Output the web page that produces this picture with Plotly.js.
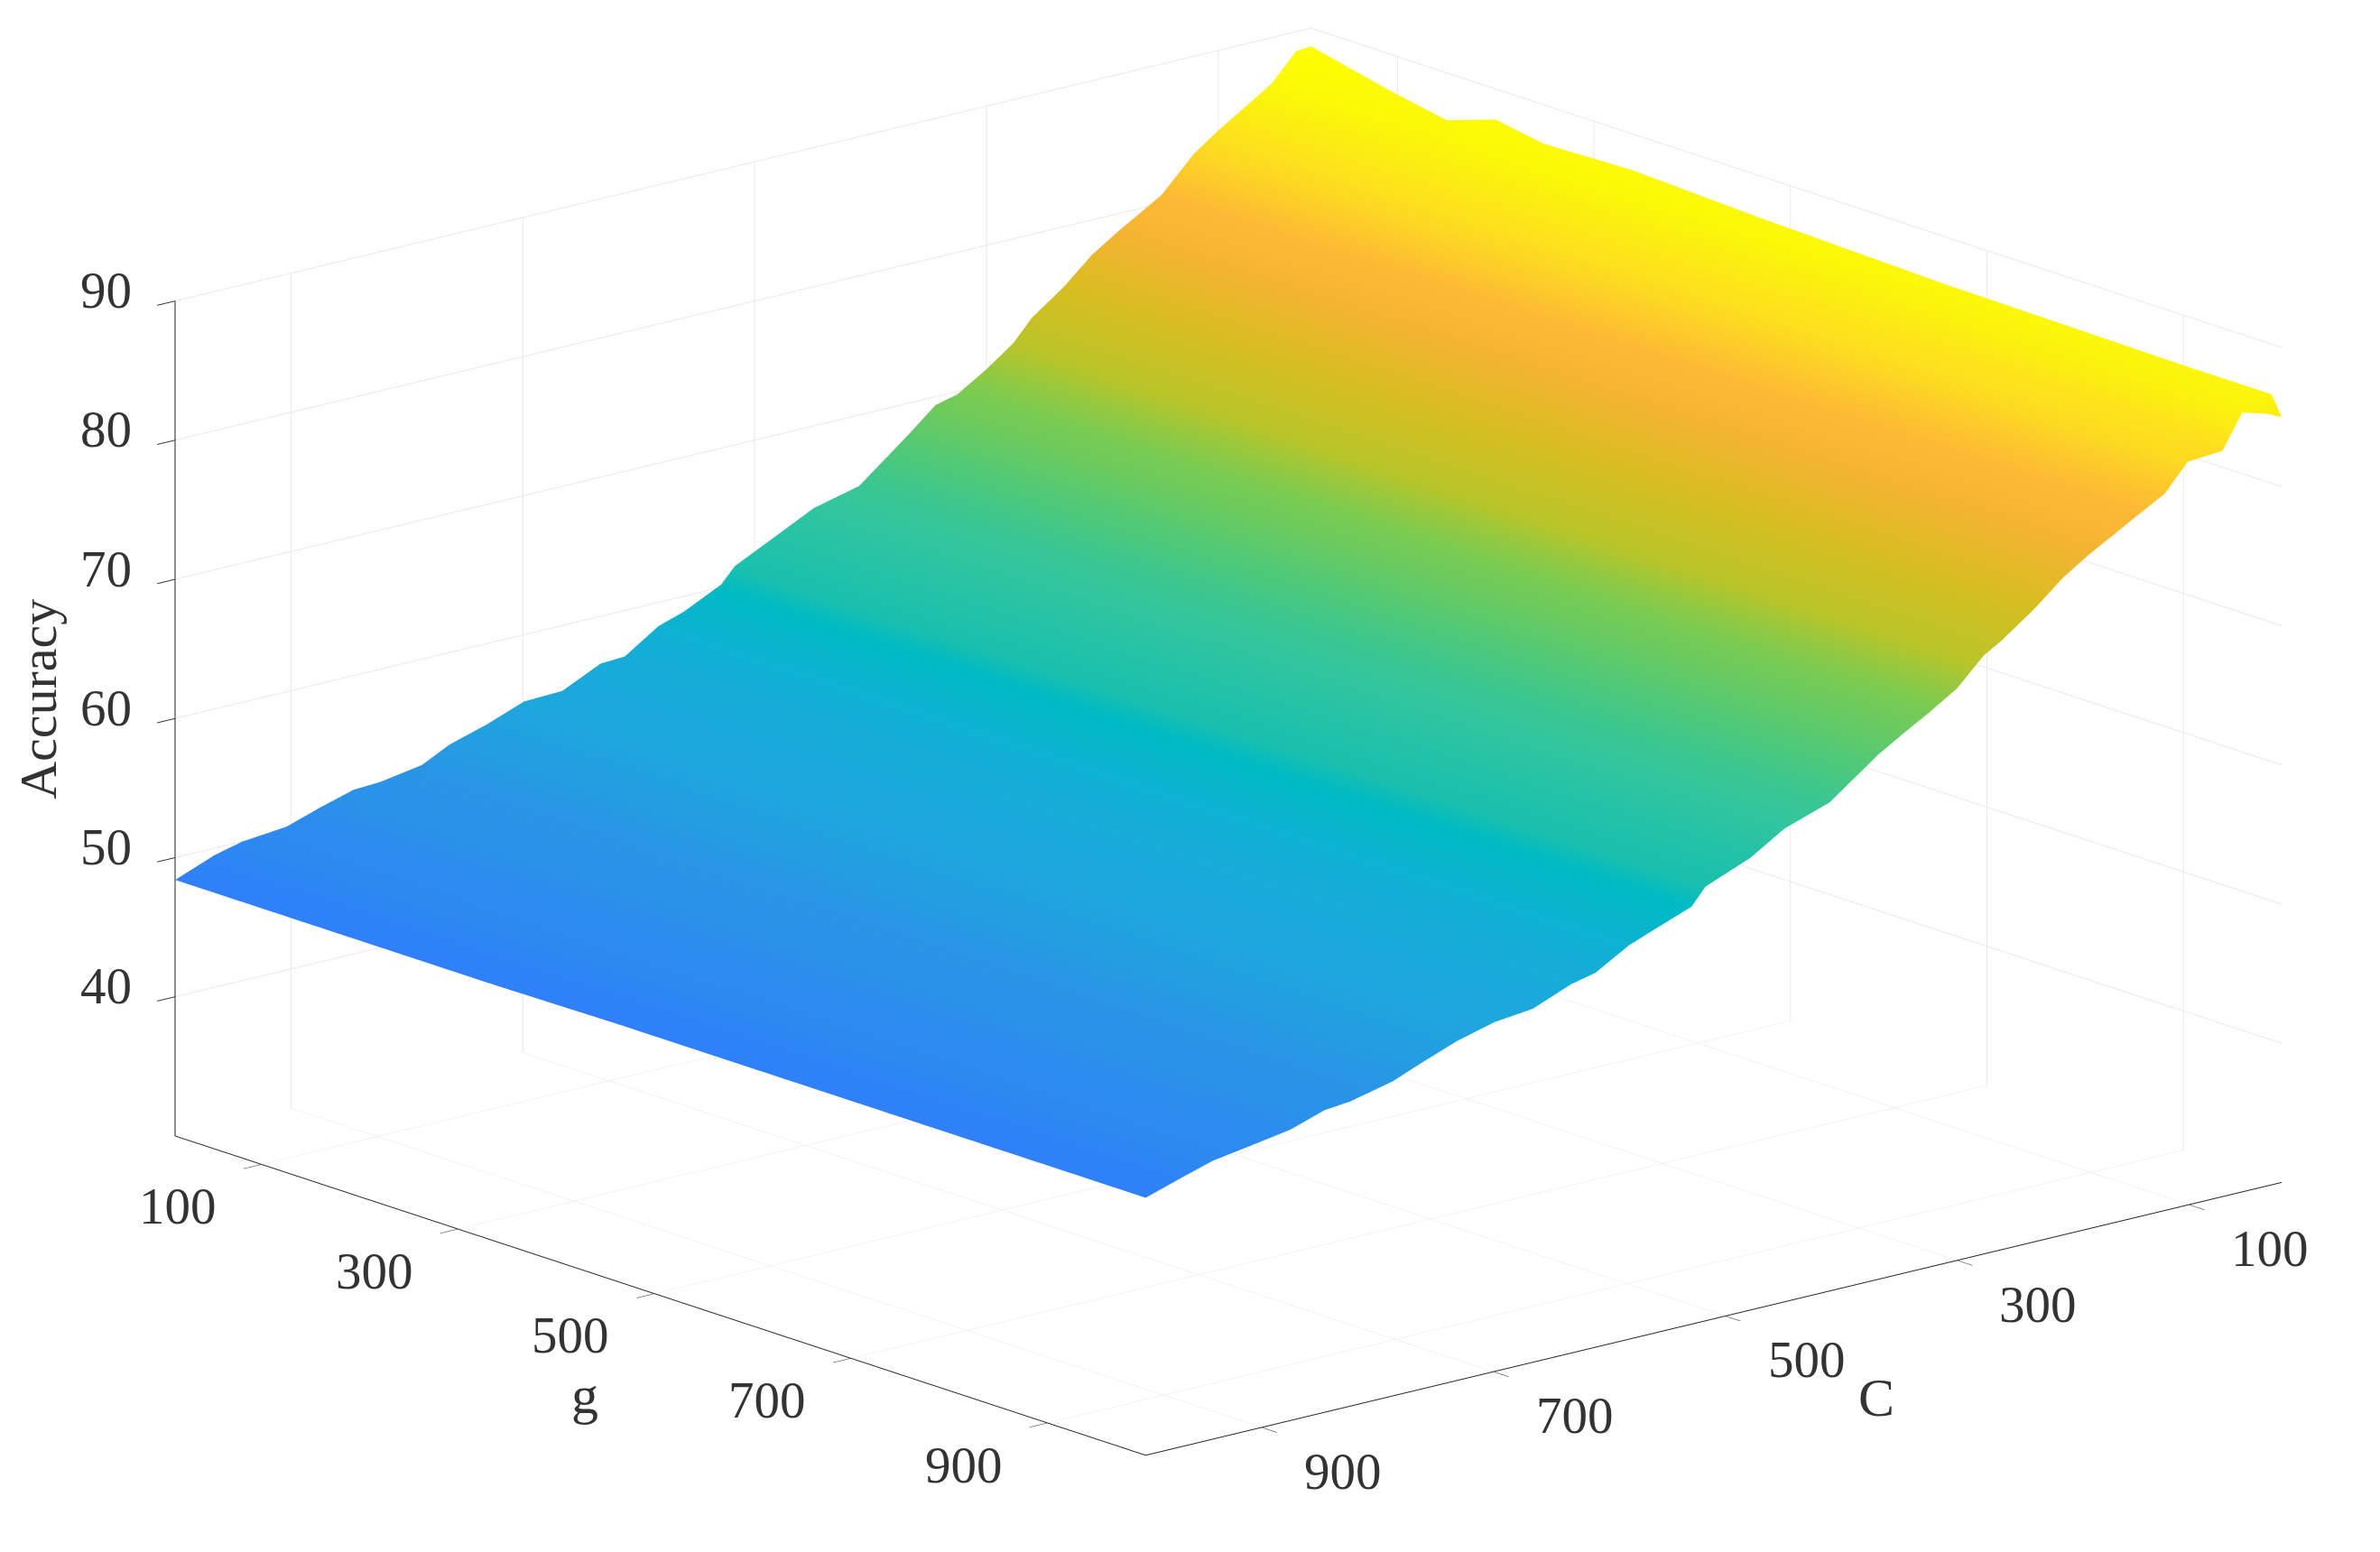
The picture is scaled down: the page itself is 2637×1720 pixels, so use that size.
<!DOCTYPE html>
<html>
<head>
<meta charset="utf-8">
<script src="https://cdn.plot.ly/plotly-3.0.1.min.js"></script>
<style>html,body{margin:0;padding:0;background:#fff}</style>
</head>
<body>
<div id="chart" style="width:2637px;height:1720px"></div>
<script>
const FONT = 'Liberation Serif, Times New Roman, serif';
const TEXT_COLOR = '#333';

const cValues = [20, 33, 54, 71, 101, 121, 149, 187, 209, 233, 261, 277, 300, 325, 344, 368, 410, 449, 478, 517, 529, 561, 583, 612, 633, 666, 699, 731, 763, 787, 823, 846, 875, 904, 942, 966, 1000];
const gValues = [12, 91, 150, 200, 249, 338, 466, 654, 901, 990, 1000];

// one row per C value, columns follow gValues
const accuracy = [
  [88.7, 87.4, 86.6, 87.8, 87.2, 87.4, 87.0, 86.6, 86.4, 86.4, 85.0],
  [88.6, 87.2, 86.5, 87.2, 86.9, 87.0, 86.7, 86.4, 86.2, 86.2, 85.5],
  [86.7, 86.4, 86.2, 86.1, 86.2, 86.2, 86.0, 85.9, 85.8, 85.9, 86.0],
  [85.8, 85.7, 85.6, 85.5, 85.4, 85.3, 85.1, 84.8, 84.3, 83.8, 83.6],
  [84.2, 84.2, 84.2, 84.1, 84.1, 84.0, 83.9, 83.8, 83.6, 83.5, 83.4],
  [83.0, 82.9, 82.9, 82.8, 82.8, 82.7, 82.5, 82.2, 81.8, 81.6, 81.5],
  [80.6, 80.6, 80.6, 80.5, 80.5, 80.5, 80.4, 80.4, 80.3, 80.2, 80.2],
  [78.7, 78.7, 78.7, 78.6, 78.6, 78.6, 78.5, 78.5, 78.4, 78.4, 78.4],
  [77.5, 77.5, 77.4, 77.4, 77.4, 77.3, 77.3, 77.3, 77.2, 77.2, 77.2],
  [75.7, 75.7, 75.7, 75.7, 75.6, 75.6, 75.6, 75.6, 75.5, 75.5, 75.5],
  [74.0, 74.0, 74.0, 73.9, 73.9, 73.9, 73.9, 73.8, 73.8, 73.8, 73.8],
  [72.5, 72.5, 72.6, 72.6, 72.6, 72.7, 72.8, 72.9, 73.0, 73.0, 73.0],
  [71.1, 71.1, 71.1, 71.1, 71.1, 71.1, 71.1, 71.1, 71.1, 71.1, 71.1],
  [69.8, 69.8, 69.8, 69.8, 69.8, 69.8, 69.8, 69.8, 69.8, 69.8, 69.8],
  [69.4, 69.4, 69.3, 69.3, 69.3, 69.2, 69.2, 69.1, 69.0, 68.9, 68.9],
  [67.7, 67.7, 67.7, 67.7, 67.7, 67.7, 67.7, 67.7, 67.7, 67.7, 67.7],
  [64.9, 64.9, 64.9, 64.9, 64.9, 65.0, 65.0, 65.0, 65.1, 65.1, 65.1],
  [64.1, 64.1, 64.1, 64.1, 64.1, 64.1, 64.0, 64.0, 64.0, 64.0, 64.0],
  [62.9, 62.9, 62.8, 62.8, 62.8, 62.7, 62.7, 62.6, 62.5, 62.5, 62.5],
  [61.3, 61.3, 61.3, 61.3, 61.3, 61.3, 61.2, 61.2, 61.2, 61.2, 61.2],
  [60.2, 60.2, 60.2, 60.2, 60.1, 60.1, 60.1, 60.1, 60.0, 60.0, 60.0],
  [58.9, 58.9, 58.9, 58.9, 58.9, 59.0, 59.0, 59.0, 59.0, 59.0, 59.0],
  [58.3, 58.3, 58.3, 58.3, 58.3, 58.3, 58.3, 58.3, 58.3, 58.3, 58.3],
  [56.7, 56.7, 56.7, 56.7, 56.8, 56.8, 56.8, 56.8, 56.9, 56.9, 56.9],
  [56.6, 56.6, 56.6, 56.6, 56.6, 56.6, 56.5, 56.5, 56.5, 56.5, 56.5],
  [55.3, 55.3, 55.3, 55.3, 55.3, 55.3, 55.4, 55.4, 55.4, 55.4, 55.4],
  [55.2, 55.2, 55.2, 55.2, 55.2, 55.2, 55.1, 55.1, 55.1, 55.1, 55.1],
  [54.2, 54.2, 54.2, 54.2, 54.3, 54.3, 54.3, 54.3, 54.4, 54.4, 54.4],
  [53.4, 53.4, 53.4, 53.4, 53.4, 53.4, 53.4, 53.4, 53.4, 53.4, 53.4],
  [52.4, 52.4, 52.4, 52.4, 52.5, 52.5, 52.5, 52.5, 52.6, 52.6, 52.6],
  [51.9, 51.9, 51.9, 51.9, 51.9, 51.9, 51.9, 51.9, 51.9, 51.9, 51.9],
  [51.8, 51.8, 51.8, 51.8, 51.8, 51.8, 51.7, 51.7, 51.7, 51.7, 51.7],
  [51.1, 51.1, 51.1, 51.1, 51.0, 51.0, 51.0, 51.0, 50.9, 50.9, 50.9],
  [50.3, 50.3, 50.3, 50.3, 50.4, 50.4, 50.4, 50.4, 50.5, 50.5, 50.5],
  [50.0, 50.0, 50.0, 50.0, 50.0, 50.0, 50.0, 50.0, 50.0, 50.0, 50.0],
  [49.5, 49.5, 49.5, 49.5, 49.5, 49.5, 49.4, 49.4, 49.4, 49.4, 49.4],
  [48.4, 48.4, 48.4, 48.4, 48.4, 48.4, 48.5, 48.5, 48.5, 48.5, 48.5],
];

const xyTicks = [100, 300, 500, 700, 900];
const zTicks = [40, 50, 60, 70, 80, 90];
const cRange = [20, 1000];
const gRange = [12, 1000];
const zRange = [30, 90];

// colour ramp, by accuracy value
const rampValues = [48.4, 52, 55, 58, 60, 61, 64, 67, 70, 72.5, 75.7, 78.7, 80.6, 84, 86.7, 88.7];
const rampColors = ['#2f80fa', '#2a94e6', '#1ea7de', '#0fb1d4', '#00bac4', '#18bfb0', '#30c5a0', '#50c978', '#7acb52', '#b8c52a', '#d8bd20', '#f5b433', '#fdb935', '#fde01e', '#fbf808', '#ffff00'];
const rampMin = rampValues[0];
const rampMax = rampValues[rampValues.length - 1];
const colorscale = rampValues.map((v, i) => [(v - rampMin) / (rampMax - rampMin), rampColors[i]]);

const trace = {
  type: 'surface',
  x: cValues,
  y: gValues,
  // plotly reads z as [y][x], so rows have to run along g
  z: gValues.map((g, j) => cValues.map((c, i) => accuracy[i][j])),
  hoverinfo: 'skip',
  showscale: false,
  cmin: rampMin,
  cmax: rampMax,
  colorscale,
  lighting: { ambient: 1, diffuse: 0, specular: 0, fresnel: 0, roughness: 1 },
};

function axis(range, ticks) {
  return {
    title: { text: '' },
    range,
    tickmode: 'array',
    tickvals: ticks,
    showticklabels: false,
    ticks: 'outside',
    ticklen: 26,
    tickwidth: 2,
    tickcolor: '#333',
    showgrid: true,
    gridcolor: '#e8e8e8',
    gridwidth: 2,
    showline: true,
    linecolor: '#222',
    linewidth: 2,
    showbackground: false,
    showspikes: false,
    zeroline: false,
  };
}

// gl tick text comes out badly scaled, so all the text sits in scene annotations
function label(text, x, y, z, xshift, yshift, size, textangle) {
  return {
    x, y, z, text,
    xshift, yshift,
    textangle: textangle || 0,
    showarrow: false,
    xanchor: 'center',
    yanchor: 'middle',
    font: { family: FONT, size: size || 57, color: TEXT_COLOR },
  };
}

// annotations exactly on a range end get dropped, so stay just inside
const cEdge = cRange[1] - 0.01;
const gEdge = gRange[1] - 0.01;
const gStart = gRange[0] + 0.01;

const annotations = [
  ...xyTicks.map(g => label(String(g), cEdge, g, zRange[0], -93, -46)),
  ...xyTicks.map(c => label(String(c), c, gEdge, zRange[0], 90, -48)),
  ...zTicks.map(z => label(String(z), cEdge, gStart, z, -77, 12)),
  label('g', cEdge, 500, zRange[0], -77, -112, 60),
  label('C', 500, gEdge, zRange[0], 167, -90, 60),
  label('Accuracy', cEdge, gStart, 60, -152, 22, 58, -90),
];

const layout = {
  width: 2637,
  height: 1720,
  margin: { t: 0, r: 0, b: 0, l: 0 },
  paper_bgcolor: '#fff',
  scene: {
    domain: { x: [0.0324, 1], y: [0.044, 1] },
    aspectmode: 'manual',
    aspectratio: { x: 2.014, y: 2.014, z: 1.173 },
    camera: {
      projection: { type: 'orthographic' },
      up: { x: 0, y: 0, z: 1 },
      center: { x: 0, y: 0, z: 0 },
      eye: { x: 0.6235 * 3, y: 0.7297 * 3, z: 0.2812 * 3 },
    },
    xaxis: axis(cRange, xyTicks),
    yaxis: axis(gRange, xyTicks),
    zaxis: axis(zRange, zTicks),
    annotations,
  },
};

Plotly.newPlot('chart', [trace], layout, { displayModeBar: false, responsive: false });
</script>
</body>
</html>
